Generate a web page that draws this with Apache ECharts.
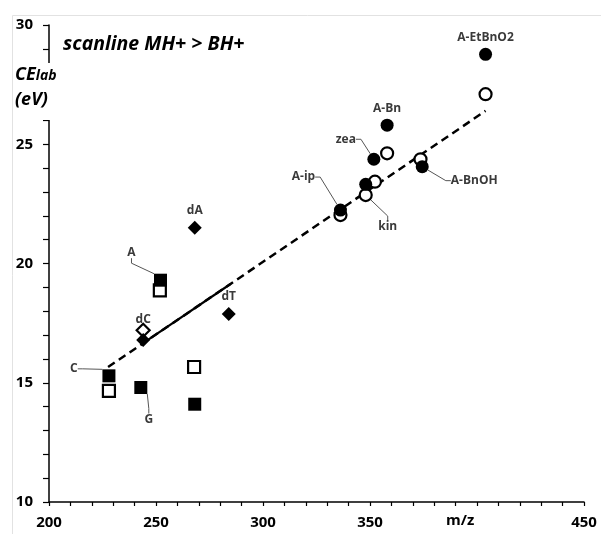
<!DOCTYPE html>
<html>
<head>
<meta charset="utf-8">
<script src="https://cdn.jsdelivr.net/npm/echarts@6/dist/echarts.min.js"></script>
<style>
  html, body { margin: 0; padding: 0; background: #fff; }
  #chart { width: 601px; height: 534px; }
</style>
</head>
<body>
<div id="chart"></div>
<script>
// values (m/z, CElab eV)
const filledCircleX = [404, 358, 351.8, 374.4, 348, 336.2];
const filledCircleY = [28.77, 25.8, 24.37, 24.06, 23.32, 22.24];
const filledCircleNames = ['A-EtBnO2', 'A-Bn', 'zea', 'A-BnOH', '', 'A-ip'];

const openCircleX = [404, 358, 373.6, 352.3, 348, 336.2];
const openCircleY = [27.1, 24.62, 24.37, 23.43, 22.87, 22.03];
const openCircleNames = ['', '', '', '', 'kin', ''];

const filledSquareX = [252.1, 228, 242.9, 268.1];
const filledSquareY = [19.3, 15.29, 14.8, 14.1];
const filledSquareNames = ['A', 'C', 'G', ''];

const openSquareX = [251.8, 228, 267.8];
const openSquareY = [18.87, 14.66, 15.66];

const filledDiamondX = [268.1, 284, 244];
const filledDiamondY = [21.5, 17.88, 16.79];
const filledDiamondNames = ['dA', 'dT', ''];

const openDiamondX = [244];
const openDiamondY = [17.2];
const openDiamondNames = ['dC'];

const fitLineX = [227.6, 404];
const fitLineY = [15.66, 26.4];
const fitSolidX = [244, 285];
const fitSolidY = [16.66, 19.15];

const xTickLabels = [200, 250, 300, 350, 450];
const yTickLabels = [10, 15, 20, 25, 30];

// label offsets (px) from the mark centre, for labels with a leader line
const leaderOffsets = {
    'zea': [-28, -20],
    'A-ip': [-37, -33],
    'kin': [22, 32],
    'A-BnOH': [52, 14],
    'A': [-29, -28],
    'C': [-35, -7],
    'G': [8, 32]
};

const zip = (xs, ys, names) => xs.map((x, i) => ({
    value: [x, ys[i]],
    name: names ? names[i] : ''
}));

const chart = echarts.init(document.getElementById('chart'), null, { renderer: 'canvas' });

const labelStyle = {
    show: true,
    position: 'top',
    distance: 4,
    formatter: p => p.name,
    fontFamily: 'Open Sans',
    fontWeight: 'bold',
    fontSize: 12,
    color: '#3a3a3a'
};

const labelLayout = (params) => {
    const o = leaderOffsets[params.text];
    if (!o) return {};
    return {
        x: params.rect.x + params.rect.width / 2 + o[0],
        y: params.rect.y + params.rect.height / 2 + o[1],
        align: 'center',
        verticalAlign: 'middle'
    };
};

const withLeader = (items) => items.map(d => Object.assign(d, {
    labelLine: { show: !!leaderOffsets[d.name] }
}));

const leaderLine = { show: true, length2: 5, lineStyle: { color: '#555', width: 1 } };

const option = {
    animation: false,
    grid: { left: 49, right: 17, top: 25, bottom: 32 },
    xAxis: {
        type: 'value',
        min: 200,
        max: 450,
        interval: 10,
        axisLine: { lineStyle: { color: '#000', width: 1.5 } },
        axisTick: { length: 4, lineStyle: { color: '#000', width: 1.2 } },
        splitLine: { show: false },
        axisLabel: {
            margin: 13,
            fontFamily: 'Open Sans',
            fontWeight: 'bold',
            fontSize: 15,
            color: '#000',
            formatter: v => xTickLabels.includes(v) ? String(v) : ''
        }
    },
    yAxis: {
        type: 'value',
        min: 10,
        max: 30,
        interval: 1,
        axisLine: { show: true, lineStyle: { color: '#000', width: 1.5 } },
        axisTick: { show: true, length: 6, lineStyle: { color: '#000', width: 1.2 } },
        splitLine: { show: false },
        axisLabel: {
            margin: 16,
            fontFamily: 'Open Sans',
            fontWeight: 'bold',
            fontSize: 15,
            color: '#000',
            formatter: v => yTickLabels.includes(v) ? String(v) : ''
        }
    },
    series: [
        {
            type: 'line',
            data: fitLineX.map((x, i) => [x, fitLineY[i]]),
            symbol: 'none',
            z: 1,
            lineStyle: { color: '#000', width: 2.5, type: [8, 5] }
        },
        {
            type: 'line',
            data: fitSolidX.map((x, i) => [x, fitSolidY[i]]),
            symbol: 'none',
            z: 1,
            lineStyle: { color: '#000', width: 2.2 }
        },
        {
            type: 'scatter',
            symbol: 'circle',
            symbolSize: 12,
            z: 2,
            itemStyle: { color: '#fff', borderColor: '#000', borderWidth: 2.2, opacity: 1 },
            data: withLeader(zip(openCircleX, openCircleY, openCircleNames)),
            label: labelStyle,
            labelLayout: labelLayout,
            labelLine: leaderLine
        },
        {
            type: 'scatter',
            symbol: 'rect',
            symbolSize: 12,
            z: 2,
            itemStyle: { color: '#fff', borderColor: '#000', borderWidth: 2.2, opacity: 1 },
            data: zip(openSquareX, openSquareY)
        },
        {
            type: 'scatter',
            symbol: 'diamond',
            symbolSize: 13,
            z: 2,
            itemStyle: { color: '#fff', borderColor: '#000', borderWidth: 2.2, opacity: 1 },
            data: zip(openDiamondX, openDiamondY, openDiamondNames),
            label: Object.assign({}, labelStyle, { distance: -3 })
        },
        {
            type: 'scatter',
            symbol: 'circle',
            symbolSize: 13,
            z: 3,
            itemStyle: { color: '#000', opacity: 1 },
            data: withLeader(zip(filledCircleX, filledCircleY, filledCircleNames)),
            label: labelStyle,
            labelLayout: labelLayout,
            labelLine: leaderLine
        },
        {
            type: 'scatter',
            symbol: 'rect',
            symbolSize: 13,
            z: 3,
            itemStyle: { color: '#000', opacity: 1 },
            data: withLeader(zip(filledSquareX, filledSquareY, filledSquareNames)),
            label: labelStyle,
            labelLayout: labelLayout,
            labelLine: leaderLine
        },
        {
            type: 'scatter',
            symbol: 'diamond',
            symbolSize: 14,
            z: 3,
            itemStyle: { color: '#000', opacity: 1 },
            data: zip(filledDiamondX, filledDiamondY, filledDiamondNames),
            label: labelStyle
        }
    ],
    graphic: [
        {
            type: 'rect',
            z: -10,
            shape: { x: 12.5, y: 15.5, width: 600, height: 530 },
            style: { fill: 'none', stroke: '#e2e2e2', lineWidth: 1 }
        },
        {
            type: 'rect',
            z: 100,
            shape: { x: 14, y: 63, width: 54, height: 57 },
            style: { fill: '#fff' }
        },
        {
            type: 'text',
            z: 101,
            left: 15,
            top: 66,
            style: {
                text: '{ce|CE}{lab|lab}\n{ev|(eV)}',
                rich: {
                    ce: { fontFamily: 'Open Sans', fontStyle: 'italic', fontWeight: 'bold', fontSize: 18, color: '#000', lineHeight: 25 },
                    lab: { fontFamily: 'Open Sans', fontStyle: 'italic', fontWeight: 'bold', fontSize: 14, color: '#000', lineHeight: 25, padding: [3, 0, 0, 0] },
                    ev: { fontFamily: 'Open Sans', fontStyle: 'italic', fontWeight: 'bold', fontSize: 18, color: '#000', lineHeight: 25 }
                }
            }
        },
        {
            type: 'text',
            z: 101,
            left: 63,
            top: 34,
            style: {
                text: 'scanline MH+ > BH+',
                fontFamily: 'Open Sans',
                fontStyle: 'italic',
                fontWeight: 'bold',
                fontSize: 19.5,
                fill: '#000'
            }
        },
        {
            type: 'text',
            z: 101,
            left: 446,
            top: 513,
            style: {
                text: 'm/z',
                fontFamily: 'Open Sans',
                fontWeight: 'bold',
                fontSize: 15,
                fill: '#000'
            }
        }
    ]
};

chart.setOption(option);
window.addEventListener('resize', chart.resize);
</script>
</body>
</html>
